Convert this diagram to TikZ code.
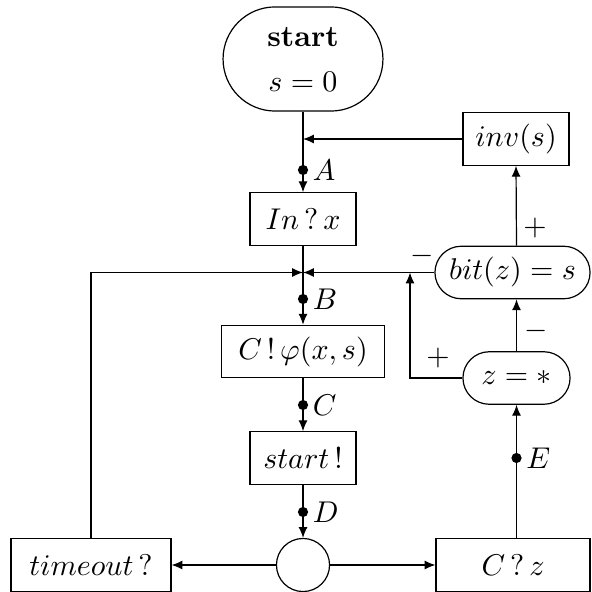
\documentclass[tikz,border=0pt]{standalone}
\usetikzlibrary{arrows.meta,shapes.misc}
\begin{document}
\begin{tikzpicture}[x=0.33333pt,y=-0.33333pt,
  box/.style={draw,rectangle,minimum height=17.5pt,inner sep=0pt},
  pill/.style={draw,rounded rectangle,minimum height=17.5pt,inner sep=0pt},
  arr/.style={-{Latex[length=3.6pt,width=3pt]}},
  dotnode/.style={circle,fill,inner sep=0pt,minimum size=3.4pt},
  dotlab/.style={inner sep=1.2pt}]
\useasboundingbox (0,0) rectangle (591,592);
% nodes
\node[pill,minimum width=53.3pt,minimum height=34.7pt,align=center] (start) at (303,59) {\textbf{start}\\[3pt]$s=0$};
\node[box,minimum width=35.3pt] (inv) at (516,139) {$inv(s)$};
\node[box,minimum width=35.3pt] (inx) at (303,219) {$In\,?\,x$};
\node[box,minimum width=54.3pt] (cphi) at (303,351.5) {$C\,!\,\varphi(x,s)$};
\node[box,minimum width=35.3pt] (stb) at (303,458) {$start\,!$};
\node[draw,circle,minimum size=17.7pt,inner sep=0pt] (circ) at (303,565) {};
\node[box,minimum width=53.3pt] (tout) at (91,565) {$timeout\,?$};
\node[box,minimum width=51.3pt] (cz) at (513,565) {$C\,?\,z$};
\node[pill,minimum width=51.7pt] (bit) at (512.5,272.5) {$bit(z)=s$};
\node[pill,minimum width=35.7pt] (zs) at (516.5,378) {$z=*$};
\coordinate (kx) at (410,0);
% dots
\node[dotnode,label={[dotlab]right:$A$}] (dA) at (303,170) {};
\node[dotnode,label={[dotlab]right:$B$}] (dB) at (303,299) {};
\node[dotnode,label={[dotlab]right:$C$}] (dC) at (303,405) {};
\node[dotnode,label={[dotlab]right:$D$}] (dD) at (303,512) {};
\node[dotnode,label={[dotlab]right:$E$}] (dE) at (516.5,458) {};
% connectors
\draw[arr] (start.south) -- (inx.north);
\draw[arr] (inv.west) -- (inv.west -| start.south);
\draw[arr] (inx.south) -- (cphi.north);
\draw[arr] (cphi.south) -- (stb.north);
\draw[arr] (stb.south) -- (circ.north);
\draw[arr] (circ.west) -- (tout.east);
\draw[arr] (circ.east) -- (cz.west);
\draw[arr] (tout.north) |- (bit.west -| inx.south);
\draw[arr] (bit.west) -- (bit.west -| inx.south);
\draw[arr] (zs.south |- cz.north) -- (zs.south);
\draw[arr] (zs.north) -- (zs.north |- bit.south);
\draw[arr] (zs.north |- bit.north) -- (inv.south);
\draw[arr] (zs.west) -| (kx |- bit.west);
% signs
\node (pl1) at (535,228) {$+$};
\node (mi1) at (536,331) {$-$};
\node (mi2) at (422,256) {$-$};
\node (pl2) at (438,358) {$+$};
\end{tikzpicture}
\end{document}
